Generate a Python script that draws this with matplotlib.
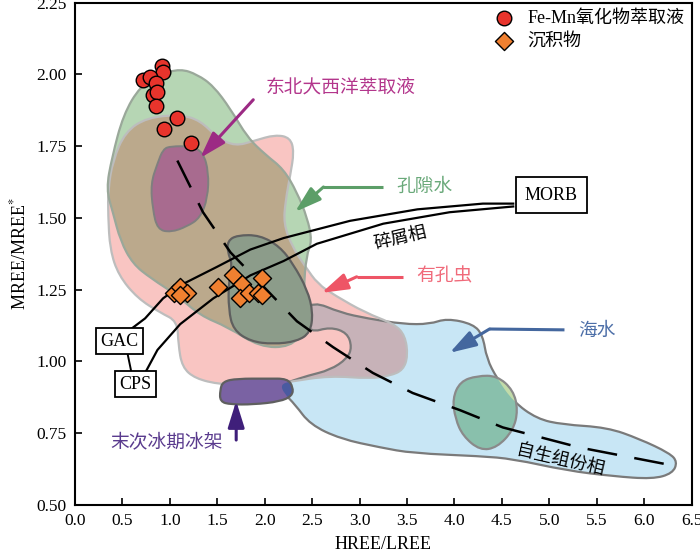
import numpy as np
import matplotlib
matplotlib.use("Agg")
import matplotlib.pyplot as plt
from matplotlib.path import Path
from matplotlib.patches import PathPatch

plt.rcParams['font.family'] = ['Liberation Serif', 'Noto Sans CJK SC']
plt.rcParams['mathtext.fontset'] = 'stix'

# ---- data (x = HREE/LREE, y = MREE/MREE*) ----
femn_x = [0.92, 0.93, 0.72, 0.79, 0.85, 0.82, 0.87, 0.86, 1.08, 0.94, 1.22]
femn_y = [2.03, 2.01, 1.98, 1.99, 1.97, 1.93, 1.94, 1.89, 1.85, 1.81, 1.76]

sed_x = [1.04, 1.11, 1.18, 1.11, 1.51, 1.67, 1.76, 1.74, 1.83, 1.97, 1.93, 1.97]
sed_y = [1.24, 1.26, 1.24, 1.23, 1.26, 1.30, 1.27, 1.22, 1.24, 1.29, 1.24, 1.23]

# authigenic trend (dashed)
auth_x = [1.08, 1.35, 1.64, 2.34, 2.72, 3.14, 3.56, 4.06, 4.51, 5.32, 6.26]
auth_y = [1.70, 1.52, 1.38, 1.14, 1.05, 0.96, 0.89, 0.83, 0.77, 0.70, 0.64]

# detrital mixing curves MORB -> GAC and MORB -> CPS
gac_x = [4.62, 4.30, 3.61, 2.90, 2.20, 1.85, 1.50, 1.14, 0.93, 0.74, 0.58]
gac_y = [1.55, 1.55, 1.53, 1.49, 1.43, 1.39, 1.33, 1.27, 1.22, 1.15, 1.11]
cps_x = [4.62, 3.95, 3.25, 2.55, 2.20, 1.85, 1.46, 1.11, 0.87, 0.74]
cps_y = [1.54, 1.52, 1.48, 1.41, 1.35, 1.30, 1.22, 1.13, 1.04, 0.96]

# field outlines
pink_x = [0.76, 1.11, 1.32, 1.50, 1.69, 1.90, 2.11, 2.27, 2.31, 2.27, 2.22, 2.20,
          2.29, 2.43, 2.56, 2.74, 3.06, 3.37, 3.48, 3.51, 3.46, 3.32, 3.11, 2.69,
          2.27, 1.95, 1.53, 1.27, 1.13, 1.09, 1.08, 0.90, 0.66, 0.46, 0.37, 0.35,
          0.35, 0.40, 0.53]
pink_y = [1.85, 1.86, 1.84, 1.78, 1.75, 1.77, 1.79, 1.78, 1.73, 1.65, 1.56, 1.48,
          1.40, 1.33, 1.27, 1.23, 1.17, 1.13, 1.09, 1.02, 0.97, 0.95, 0.94, 0.95,
          0.93, 0.91, 0.92, 0.94, 0.98, 1.06, 1.14, 1.17, 1.22, 1.30, 1.39, 1.51,
          1.60, 1.70, 1.80]

green_x = [0.90, 1.11, 1.29, 1.46, 1.64, 1.82, 2.01, 2.20, 2.34, 2.45, 2.50, 2.44,
           2.41, 2.43, 2.27, 1.95, 1.61, 1.32, 1.08, 0.80, 0.61, 0.48, 0.40, 0.33,
           0.39, 0.51, 0.69]
green_y = [2.00, 2.02, 2.00, 1.96, 1.88, 1.78, 1.72, 1.67, 1.59, 1.50, 1.42, 1.37,
           1.25, 1.11, 1.05, 1.05, 1.12, 1.16, 1.23, 1.29, 1.34, 1.42, 1.52, 1.60,
           1.71, 1.86, 1.96]

nea_x = [0.93, 1.01, 1.22, 1.35, 1.41, 1.40, 1.32, 1.18, 1.01, 0.87, 0.82, 0.80, 0.87]
nea_y = [1.74, 1.75, 1.75, 1.73, 1.66, 1.57, 1.50, 1.47, 1.45, 1.46, 1.53, 1.62, 1.69]

blob_x = [1.61, 1.71, 1.95, 2.16, 2.30, 2.45, 2.51, 2.48, 2.34, 2.09, 1.85, 1.67,
          1.62, 1.62, 1.66, 1.61]
blob_y = [1.42, 1.44, 1.44, 1.40, 1.34, 1.25, 1.17, 1.10, 1.07, 1.06, 1.07, 1.11,
          1.18, 1.28, 1.34, 1.38]

sea_x = [2.51, 2.80, 3.08, 3.46, 3.74, 3.92, 4.20, 4.30, 4.34, 4.45, 4.62, 4.87,
         5.14, 5.61, 5.95, 6.27, 6.35, 6.30, 6.09, 5.67, 5.18, 4.62, 4.27, 3.56,
         3.22, 2.80, 2.48, 2.32, 2.20, 2.17, 2.27, 2.45, 2.69, 2.87, 2.92, 2.87,
         2.69, 2.48, 2.37]
sea_y = [1.21, 1.17, 1.15, 1.13, 1.13, 1.15, 1.13, 1.09, 1.01, 0.94, 0.86, 0.80,
         0.78, 0.77, 0.73, 0.68, 0.65, 0.61, 0.59, 0.60, 0.62, 0.66, 0.67, 0.68,
         0.70, 0.73, 0.78, 0.85, 0.89, 0.92, 0.93, 0.95, 0.97, 1.01, 1.05, 1.10,
         1.12, 1.10, 1.16]

ice_x = [1.53, 1.56, 1.71, 2.03, 2.24, 2.30, 2.29, 2.16, 1.88, 1.64, 1.53]
ice_y = [0.90, 0.93, 0.94, 0.94, 0.94, 0.91, 0.88, 0.86, 0.85, 0.85, 0.86]

ell_x = [3.98, 4.06, 4.24, 4.45, 4.62, 4.67, 4.62, 4.45, 4.27, 4.09, 4.01]
ell_y = [0.87, 0.93, 0.95, 0.95, 0.90, 0.83, 0.76, 0.70, 0.69, 0.74, 0.80]

xticks = np.arange(0, 6.51, 0.5)
yticks = np.arange(0.5, 2.251, 0.25)


def smooth(xs, ys, **kw):
    pts = np.column_stack([xs, ys])
    mids = (pts + np.roll(pts, -1, axis=0)) / 2
    verts = [mids[-1]]
    codes = [Path.MOVETO]
    for i in range(len(pts)):
        verts += [pts[i], mids[i]]
        codes += [Path.CURVE3, Path.CURVE3]
    verts.append(mids[-1])
    codes.append(Path.CLOSEPOLY)
    return PathPatch(Path(verts, codes), **kw)


fig = plt.figure(figsize=(7, 5.53), dpi=100)
ax = fig.add_axes([0.107, 0.087, 0.881, 0.908])

# fills
sea = ax.add_patch(smooth(sea_x, sea_y, fc='#c8e6f5', ec='none', zorder=1))
ax.add_patch(smooth(pink_x, pink_y, fc='#f9c5c2', ec='none', zorder=1.1))
mauve = ax.add_patch(smooth(pink_x, pink_y, fc='#c7b2b8', ec='none', zorder=1.2))
mauve.set_clip_path(sea)
green = ax.add_patch(smooth(green_x, green_y, fc='#b6d6b4', ec='none', zorder=1.3))
brown = ax.add_patch(smooth(pink_x, pink_y, fc='#bba98c', ec='none', zorder=1.4))
brown.set_clip_path(green)

# outlines
ax.add_patch(smooth(sea_x, sea_y, fc='none', ec='#7a7a7a', lw=1.6, zorder=2))
ax.add_patch(smooth(pink_x, pink_y, fc='none', ec='#bdbdbd', lw=1.6, zorder=2))
ax.add_patch(smooth(green_x, green_y, fc='none', ec='#9aa89a', lw=1.6, zorder=2))

ax.add_patch(smooth(blob_x, blob_y, fc='#8c9c8a', ec='#5f5f5f', lw=1.6, zorder=3))
ax.add_patch(smooth(nea_x, nea_y, fc='#a86b8f', ec='#7f7f7f', lw=1.4, zorder=3))
ax.add_patch(smooth(ice_x, ice_y, fc='#7a62a3', ec='none', zorder=3))
ice_b = ax.add_patch(smooth(ice_x, ice_y, fc='#4a5aa0', ec='none', zorder=3.1))
ice_b.set_clip_path(sea)
ax.add_patch(smooth(ice_x, ice_y, fc='none', ec='#5f5f5f', lw=1.6, zorder=3.2))
ax.add_patch(smooth(ell_x, ell_y, fc='#c2dba9', ec='none', zorder=3))
ell_b = ax.add_patch(smooth(ell_x, ell_y, fc='#89c0ac', ec='none', zorder=3.1))
ell_b.set_clip_path(sea)
ax.add_patch(smooth(ell_x, ell_y, fc='none', ec='#8a8a8a', lw=1.6, zorder=3.2))

# mixing curves and trend
ax.plot(gac_x, gac_y, color='black', lw=1.6, zorder=4)
ax.plot(cps_x, cps_y, color='black', lw=1.6, zorder=4)
ax.plot([0.55, 0.60], [1.035, 0.955], color='black', lw=1.4, zorder=4)
ax.plot(auth_x, auth_y, color='black', lw=1.8, ls=(0, (12, 7)), zorder=4)

ax.text(5.02, 1.58, 'MORB', fontsize=13, ha='center', va='center', zorder=6,
        bbox=dict(boxstyle='square,pad=0.5', fc='white', ec='black', lw=1.3))
box = dict(boxstyle='square,pad=0.25', fc='white', ec='black', lw=1.3)
ax.text(0.47, 1.07, 'GAC', fontsize=13, ha='center', va='center', bbox=box, zorder=6)
ax.text(0.64, 0.92, 'CPS', fontsize=13, ha='center', va='center', bbox=box, zorder=6)

ax.text(3.43, 1.43, '碎屑相', fontsize=13, rotation=13, ha='center', va='center', zorder=6)
ax.text(5.11, 0.655, '自生组份相', fontsize=13, rotation=-13, ha='center', va='center', zorder=6)

# points
ax.scatter(femn_x, femn_y, s=110, c='#e8342c', edgecolors='black', linewidths=1.0,
           zorder=5, label='Fe-Mn氧化物萃取液')
ax.scatter(sed_x, sed_y, s=85, marker='D', c='#f08030', edgecolors='black',
           linewidths=1.0, zorder=5, label='沉积物')


def pointer(xs, ys, text, tx, ty, col, tcol):
    ax.plot(xs[:-1], ys[:-1], color=col, lw=2.2, zorder=6, solid_capstyle='butt')
    ax.annotate('', xy=(xs[-1], ys[-1]), xytext=(xs[-2], ys[-2]), zorder=6,
                arrowprops=dict(arrowstyle='-|>,head_length=1.6,head_width=0.5',
                                color=col, lw=2.2, shrinkA=0, shrinkB=0))
    ax.text(tx, ty, text, color=tcol, fontsize=13.5, ha='center', va='center', zorder=6)


pointer([1.88, 1.32], [1.912, 1.709], '东北大西洋萃取液', 2.80, 1.953, '#9c2a84', '#b3368c')
pointer([3.25, 2.62, 2.32], [1.608, 1.608, 1.521], '孔隙水', 3.68, 1.608, '#5c9e68', '#6aa97a')
pointer([3.46, 2.97, 2.60], [1.295, 1.295, 1.239], '有孔虫', 3.89, 1.295, '#ee5566', '#f06a7a')
pointer([5.16, 4.37, 3.95], [1.110, 1.113, 1.030], '海水', 5.50, 1.105, '#44679e', '#4d6fa8')
pointer([1.70, 1.70], [0.726, 0.862], '末次冰期冰架', 0.97, 0.720, '#3f1f7a', '#5a3b8e')

ax.legend(loc='upper right', frameon=False, fontsize=13, handletextpad=0.3,
          borderaxespad=0.1, labelspacing=0.3, borderpad=0.3)

ax.set_xlim(0, 6.5)
ax.set_ylim(0.5, 2.25)
ax.set_xticks(xticks)
ax.set_xticklabels([f'{v:.1f}' for v in xticks])
ax.set_yticks(yticks)
ax.set_yticklabels([f'{v:.2f}' for v in yticks])
ax.tick_params(direction='in', length=5, width=1.2, labelsize=12.5, pad=6)
for s in ax.spines.values():
    s.set_linewidth(1.5)
ax.set_xlabel('HREE/LREE', fontsize=13, labelpad=5)
ax.set_ylabel('MREE/MREE$^{*}$', fontsize=13, labelpad=5)

fig.savefig('out.png', dpi=100)
